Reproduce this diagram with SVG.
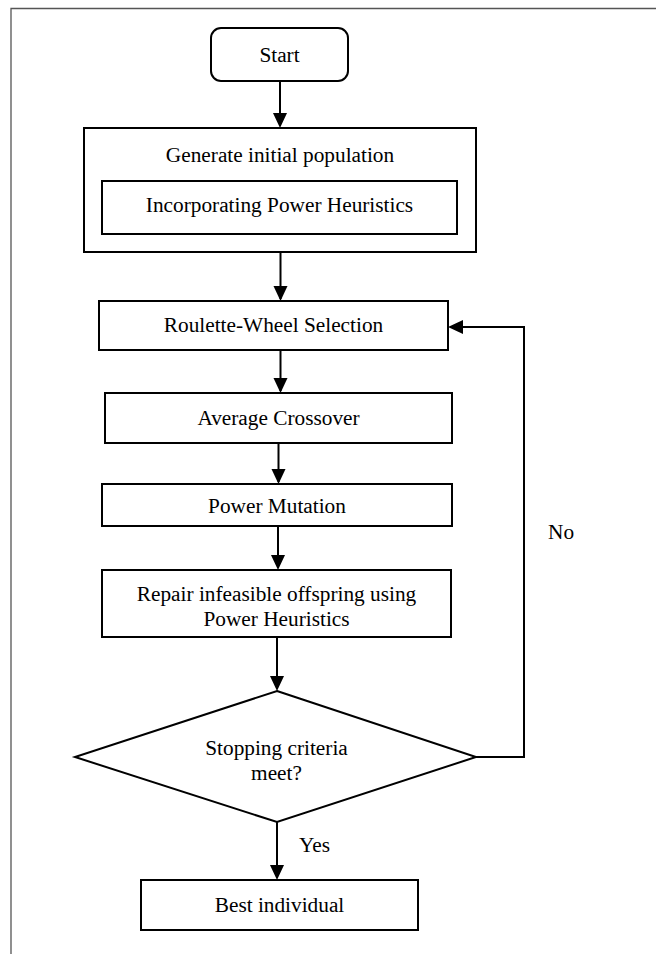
<svg xmlns="http://www.w3.org/2000/svg" width="656" height="954" viewBox="0 0 656 954">
  <style>
    .box { fill: #ffffff; stroke: #000000; stroke-width: 2; }
    .lbl { font-family: "Liberation Serif", "Times New Roman", serif; font-size: 21.3px; fill: #000000; text-anchor: middle; }
    .side { font-family: "Liberation Serif", "Times New Roman", serif; font-size: 21.3px; fill: #000000; text-anchor: start; }
    .conn { fill: none; stroke: #000000; stroke-width: 2; marker-end: url(#arrow); }
    .frame { fill: none; stroke: #555555; stroke-width: 1.3; }
  </style>
  <defs>
    <marker id="arrow" markerUnits="userSpaceOnUse" markerWidth="16" markerHeight="15" refX="13" refY="7" orient="auto">
      <path d="M0,0 L15,7 L0,14 z" fill="#000000"/>
    </marker>
  </defs>
  <rect x="0" y="0" width="656" height="954" fill="#ffffff"/>
  <path class="frame" d="M11,954 L11,8.5 L656,8.5"/>

  <g id="connectors">
    <path class="conn" d="M280,81 L280,126"/>
    <path class="conn" d="M280.5,252 L280.5,299"/>
    <path class="conn" d="M280.5,350 L280.5,391"/>
    <path class="conn" d="M278.5,443 L278.5,482"/>
    <path class="conn" d="M278,526 L278,568"/>
    <path class="conn" d="M277,637 L277,689"/>
    <path class="conn" d="M277,822 L277,878"/>
    <path class="conn" d="M476,757 L524,757 L524,327 L450,327"/>
  </g>

  <g id="start">
    <rect class="box" x="211" y="28" width="137" height="53" rx="10" ry="10"/>
    <text class="lbl" x="279.5" y="62">Start</text>
  </g>

  <g id="generate">
    <rect class="box" x="84" y="128" width="392" height="124"/>
    <text class="lbl" x="280" y="162">Generate initial population</text>
  </g>

  <g id="incorporating">
    <rect class="box" x="102" y="181" width="355" height="53"/>
    <text class="lbl" x="279.5" y="212">Incorporating Power Heuristics</text>
  </g>

  <g id="roulette">
    <rect class="box" x="99" y="301" width="349" height="49"/>
    <text class="lbl" x="273.5" y="332">Roulette-Wheel Selection</text>
  </g>

  <g id="crossover">
    <rect class="box" x="105" y="393" width="347" height="50"/>
    <text class="lbl" x="278.5" y="424.5">Average Crossover</text>
  </g>

  <g id="mutation">
    <rect class="box" x="102" y="484" width="350" height="42"/>
    <text class="lbl" x="277" y="513">Power Mutation</text>
  </g>

  <g id="repair">
    <rect class="box" x="102" y="570" width="349" height="67"/>
    <text class="lbl" x="276.5" y="601">Repair infeasible offspring using</text>
    <text class="lbl" x="276.5" y="626">Power Heuristics</text>
  </g>

  <g id="stopping">
    <polygon class="box" points="277,691 476,757 277,822 75,757"/>
    <text class="lbl" x="276.5" y="755">Stopping criteria</text>
    <text class="lbl" x="276.5" y="779.5">meet?</text>
  </g>

  <g id="best">
    <rect class="box" x="141" y="880" width="277" height="50"/>
    <text class="lbl" x="279.5" y="912">Best individual</text>
  </g>

  <g id="labels">
    <text class="side" x="299" y="852">Yes</text>
    <text class="side" x="548" y="539">No</text>
  </g>
</svg>
